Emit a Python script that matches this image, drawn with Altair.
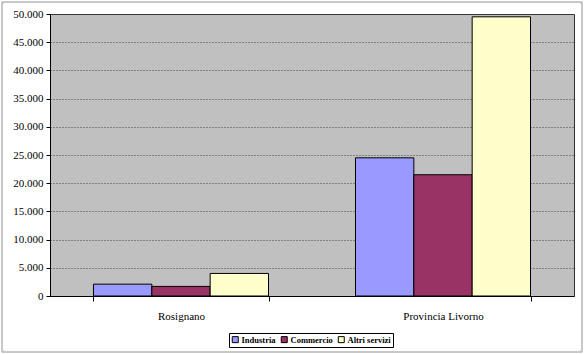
import altair as alt
import pandas as pd

categories = ["Rosignano", "Provincia Livorno"]
series = ["Industria", "Commercio", "Altri servizi"]
industria = [2100, 24500]
commercio = [1700, 21500]
altri = [4000, 49500]
colors = ["#9999FF", "#993366", "#FFFFCC"]

rows = []
for i, c in enumerate(categories):
    for s, vals in zip(series, [industria, commercio, altri]):
        rows.append({"cat": c, "serie": s, "val": vals[i]})
df = pd.DataFrame(rows)

FONT = "Liberation Serif"

bars = alt.Chart(df).mark_bar(stroke="black", strokeWidth=1).encode(
    x=alt.X("cat:N", sort=categories, title=None,
            scale=alt.Scale(paddingInner=0.332, paddingOuter=0.166),
            axis=alt.Axis(labelAngle=0, tickBand="extent", labelPadding=9,
                          labelFontSize=11, labelFont=FONT, labelColor="black",
                          domainColor="black", tickColor="black", tickSize=5,
                          grid=False)),
    xOffset=alt.XOffset("serie:N", sort=series),
    y=alt.Y("val:Q", title=None,
            scale=alt.Scale(domain=[0, 50000]),
            axis=alt.Axis(values=list(range(0, 50001, 5000)), format=",d",
                          labelExpr="replace(datum.label, ',', '.')",
                          labelFont=FONT, labelFontSize=11, labelColor="black",
                          domainColor="black", tickColor="black", tickSize=4,
                          labelPadding=3,
                          grid=True, gridColor="#404040", gridDash=[1, 2],
                          gridWidth=1)),
    color=alt.Color("serie:N", sort=series,
                    scale=alt.Scale(domain=series, range=colors),
                    legend=alt.Legend(title=None, orient="none", direction="horizontal",
                                      legendX=179, legendY=319,
                                      symbolType="square", symbolSize=36,
                                      symbolStrokeColor="black", symbolStrokeWidth=1,
                                      labelFont=FONT, labelFontSize=8.5,
                                      labelFontWeight="bold", labelOffset=2,
                                      columnPadding=3, symbolOffset=0,
                                      strokeColor="black", padding=2,
                                      fillColor="white")),
)

frame = alt.Chart(df).mark_rect(fill=None, stroke="#c8c8c8", strokeWidth=2,
                                cornerRadius=2).encode(
    x=alt.value(-48), x2=alt.value(532), y=alt.value(-12), y2=alt.value(338)
)

chart = alt.layer(frame, bars).properties(
    width=524, height=282,
    padding={"left": 50, "top": 14, "right": 10, "bottom": 58},
    autosize=alt.AutoSizeParams(type="none"),
    background="white",
).configure_view(fill="#C0C0C0", stroke="#303030", strokeWidth=1)

chart.save("out.html", embed_options={"renderer": "svg", "actions": False})
